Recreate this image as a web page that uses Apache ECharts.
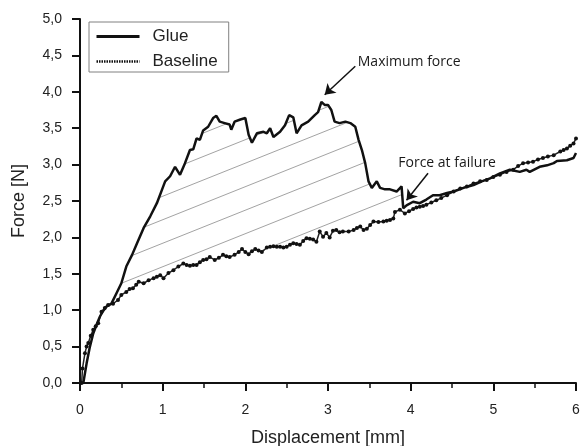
<!DOCTYPE html>
<html><head><meta charset="utf-8">
<script src="https://cdn.jsdelivr.net/npm/echarts@6/dist/echarts.min.js"></script>
<style>html,body{margin:0;padding:0;background:#fff}#c{width:581px;height:446px}</style>
</head><body><div id="c"></div>
<script>
// ---- data ----
const seriesNames = ['Glue', 'Baseline'];
const glueX = [0.04,0.08,0.12,0.16,0.20,0.24,0.28,0.32,0.38,0.44,0.50,0.56,0.63,0.69,0.77,0.85,0.93,0.99,1.03,1.09,1.15,1.21,1.27,1.33,1.37,1.41,1.45,1.49,1.55,1.61,1.65,1.69,1.75,1.81,1.83,1.87,1.94,2.00,2.04,2.08,2.14,2.22,2.26,2.30,2.34,2.42,2.48,2.53,2.58,2.62,2.68,2.76,2.84,2.88,2.92,2.96,3.00,3.04,3.08,3.14,3.21,3.27,3.33,3.37,3.41,3.45,3.49,3.53,3.59,3.63,3.69,3.75,3.83,3.89,3.91,3.95,4.03,4.11,4.19,4.27,4.35,4.44,4.52,4.64,4.76,4.86,4.96,5.08,5.20,5.32,5.40,5.44,5.56,5.65,5.73,5.77,5.89,5.97,6.00];
const glueY = [0.00,0.27,0.50,0.68,0.80,0.91,0.99,1.05,1.09,1.23,1.37,1.60,1.76,1.92,2.13,2.29,2.47,2.65,2.77,2.84,2.97,2.86,3.02,3.20,3.21,3.36,3.34,3.47,3.52,3.64,3.67,3.59,3.57,3.55,3.48,3.59,3.62,3.64,3.41,3.30,3.43,3.45,3.43,3.50,3.38,3.45,3.54,3.68,3.65,3.43,3.54,3.59,3.68,3.72,3.86,3.82,3.82,3.75,3.59,3.57,3.59,3.57,3.52,3.34,3.20,3.02,2.77,2.68,2.77,2.68,2.66,2.66,2.63,2.70,2.40,2.44,2.49,2.47,2.52,2.58,2.58,2.61,2.63,2.68,2.72,2.77,2.81,2.88,2.93,2.90,2.93,2.90,2.97,2.99,3.02,3.05,3.06,3.09,3.16];
const baseX = [0.02,0.03,0.06,0.08,0.10,0.13,0.16,0.19,0.22,0.26,0.30,0.34,0.40,0.46,0.50,0.56,0.60,0.64,0.68,0.71,0.77,0.83,0.89,0.93,0.97,1.01,1.07,1.13,1.19,1.25,1.29,1.33,1.37,1.41,1.45,1.49,1.53,1.57,1.63,1.68,1.73,1.77,1.81,1.87,1.92,1.96,2.00,2.04,2.08,2.12,2.16,2.20,2.26,2.30,2.34,2.38,2.42,2.46,2.50,2.54,2.58,2.62,2.66,2.70,2.74,2.78,2.82,2.86,2.90,2.94,2.98,3.02,3.06,3.10,3.14,3.18,3.25,3.31,3.35,3.39,3.43,3.47,3.51,3.55,3.61,3.67,3.71,3.75,3.79,3.81,3.87,3.93,3.98,4.03,4.07,4.11,4.15,4.19,4.25,4.31,4.37,4.44,4.52,4.60,4.68,4.76,4.84,4.92,5.00,5.08,5.16,5.24,5.30,5.36,5.42,5.48,5.54,5.60,5.66,5.73,5.81,5.85,5.89,5.93,5.97,6.00];
const baseY = [0.00,0.20,0.41,0.50,0.55,0.65,0.73,0.78,0.82,0.98,1.03,1.07,1.09,1.14,1.21,1.25,1.29,1.30,1.35,1.39,1.37,1.41,1.44,1.46,1.48,1.44,1.51,1.55,1.60,1.64,1.62,1.61,1.62,1.62,1.66,1.69,1.70,1.73,1.69,1.72,1.76,1.74,1.73,1.76,1.80,1.84,1.80,1.77,1.81,1.84,1.82,1.80,1.86,1.87,1.88,1.87,1.87,1.86,1.87,1.90,1.92,1.91,1.90,1.95,1.99,1.98,1.97,1.94,2.08,2.01,2.06,2.00,2.09,2.10,2.07,2.08,2.08,2.10,2.13,2.15,2.10,2.12,2.17,2.22,2.21,2.22,2.23,2.24,2.26,2.35,2.38,2.33,2.36,2.39,2.41,2.42,2.43,2.45,2.48,2.51,2.54,2.58,2.63,2.67,2.70,2.74,2.77,2.79,2.83,2.86,2.90,2.93,2.98,3.02,3.03,3.04,3.07,3.09,3.11,3.13,3.18,3.20,3.22,3.26,3.29,3.36];
// hatched region (area between curves) x-range
const hatchFrom = 0.5, hatchTo = 3.91;
const hatchRef = [0.847, 1.85];
// annotations
const annotationTexts = ['Maximum force', 'Force at failure'];
const annotationAt = [[3.36, 4.41], [3.85, 3.02]];
const arrowFrom = [[3.33, 4.35], [4.21, 2.88]];
const arrowTo = [[2.96, 3.96], [3.95, 2.51]];

const zip = (xs, ys) => xs.map((x, i) => [x, ys[i]]);
function interp(xs, ys, x) {
  for (let i = 1; i < xs.length; i++) {
    if (xs[i] >= x) { const t = (x - xs[i-1]) / (xs[i] - xs[i-1]); return ys[i-1] + t * (ys[i] - ys[i-1]); }
  }
  return ys[ys.length - 1];
}

function renderHatch(params, api) {
  const poly = [];
  poly.push(api.coord([hatchFrom, interp(glueX, glueY, hatchFrom)]));
  for (let i = 0; i < glueX.length; i++) if (glueX[i] > hatchFrom && glueX[i] < hatchTo) poly.push(api.coord([glueX[i], glueY[i]]));
  poly.push(api.coord([hatchTo, interp(glueX, glueY, hatchTo)]));
  poly.push(api.coord([hatchTo, interp(baseX, baseY, hatchTo)]));
  for (let i = baseX.length - 1; i >= 0; i--) if (baseX[i] > hatchFrom && baseX[i] < hatchTo) poly.push(api.coord([baseX[i], baseY[i]]));
  poly.push(api.coord([hatchFrom, interp(baseX, baseY, hatchFrom)]));
  const s = 0.4, gap = 23.5;
  const u = p => p[1] + s * p[0];
  const u0 = u(api.coord(hatchRef));
  let umin = Infinity, umax = -Infinity;
  poly.forEach(p => { const v = u(p); umin = Math.min(umin, v); umax = Math.max(umax, v); });
  const children = [];
  for (let k = Math.ceil((umin - u0) / gap); k <= Math.floor((umax - u0) / gap); k++) {
    const c = u0 + k * gap;
    const pts = [];
    for (let i = 0; i < poly.length; i++) {
      const a = poly[i], b = poly[(i + 1) % poly.length];
      const ua = u(a), ub = u(b);
      if ((ua <= c) !== (ub <= c)) {
        const t = (c - ua) / (ub - ua);
        pts.push([a[0] + t * (b[0] - a[0]), a[1] + t * (b[1] - a[1])]);
      }
    }
    pts.sort((p, q) => p[0] - q[0]);
    for (let j = 0; j + 1 < pts.length; j += 2) {
      children.push({ type: 'line', shape: { x1: pts[j][0], y1: pts[j][1], x2: pts[j+1][0], y2: pts[j+1][1] },
        style: { stroke: '#a3a3a3', lineWidth: 1 } });
    }
  }
  return { type: 'group', children };
}

const FONT = 'Liberation Sans';
const chart = echarts.init(document.getElementById('c'), null, { renderer: 'canvas' });
chart.setOption({
  animation: false,
  backgroundColor: '#fff',
  grid: { left: 80, right: 5, top: 19, bottom: 63, containLabel: false, outerBoundsMode: 'none' },
  legend: {
    orient: 'vertical', left: 89, top: 22, padding: [6, 11, 2, 6],
    borderColor: '#808080', borderWidth: 1,
    itemWidth: 43, itemHeight: 14, itemGap: 8,
    textStyle: { fontSize: 17, fontFamily: FONT, color: '#222', padding: [0, 0, 0, 8] },
    data: [
      { name: seriesNames[0], itemStyle: { opacity: 0 }, lineStyle: { width: 3, color: '#111' } },
      { name: seriesNames[1], itemStyle: { opacity: 0 }, lineStyle: { type: [1.5, 1], width: 2.5, color: '#111' } }
    ]
  },
  xAxis: {
    type: 'value', min: 0, max: 6, interval: 1,
    axisLine: { show: true, onZero: false, lineStyle: { color: '#111', width: 2 } },
    axisTick: { show: true, length: 8, lineStyle: { color: '#111', width: 2 } },
    minorTick: { show: true, splitNumber: 2, length: 5, lineStyle: { color: '#111', width: 1.5 } },
    splitLine: { show: false },
    axisLabel: { margin: 20, fontSize: 14, fontFamily: FONT, color: '#222' },
    name: 'Displacement [mm]', nameLocation: 'middle', nameGap: 46,
    nameTextStyle: { fontSize: 18, fontFamily: FONT, color: '#222' }
  },
  yAxis: {
    type: 'value', min: 0, max: 5, interval: 0.5,
    axisLine: { show: true, onZero: false, lineStyle: { color: '#111', width: 2 } },
    axisTick: { show: true, length: 8, lineStyle: { color: '#111', width: 2 } },
    splitLine: { show: false },
    axisLabel: { margin: 18, fontSize: 14, fontFamily: FONT, color: '#222', formatter: v => v.toFixed(1).replace('.', ',') },
    name: 'Force [N]', nameLocation: 'middle', nameGap: 52,
    nameTextStyle: { fontSize: 18, fontFamily: FONT, color: '#222' }
  },
  series: [
    { type: 'custom', name: 'hatch', silent: true, renderItem: renderHatch, data: [[0, 0]], z: 1 },
    { type: 'line', name: seriesNames[1], data: zip(baseX, baseY), symbol: 'circle', symbolSize: 4, showSymbol: true,
      itemStyle: { color: '#111' }, lineStyle: { color: '#222', width: 1.5 }, z: 2, silent: true },
    { type: 'line', name: seriesNames[0], data: zip(glueX, glueY), symbol: 'none',
      itemStyle: { color: '#111' }, lineStyle: { color: '#111', width: 2.5 }, z: 3, silent: true,
      markLine: {
        silent: true, symbol: ['none', 'arrow'], symbolSize: 10, animation: false,
        lineStyle: { color: '#111', width: 1.5, type: 'solid' }, label: { show: false },
        data: arrowFrom.map((f, i) => [{ coord: f }, { coord: arrowTo[i] }])
      },
      markPoint: {
        silent: true, symbol: 'circle', symbolSize: 0, animation: false,
        label: { show: true, position: 'right', distance: 0, fontFamily: 'Open Sans', fontSize: 14, color: '#1a1a1a', formatter: p => p.name },
        data: annotationTexts.map((t, i) => ({ name: t, coord: annotationAt[i] }))
      }
    }
  ]
});
</script></body></html>
